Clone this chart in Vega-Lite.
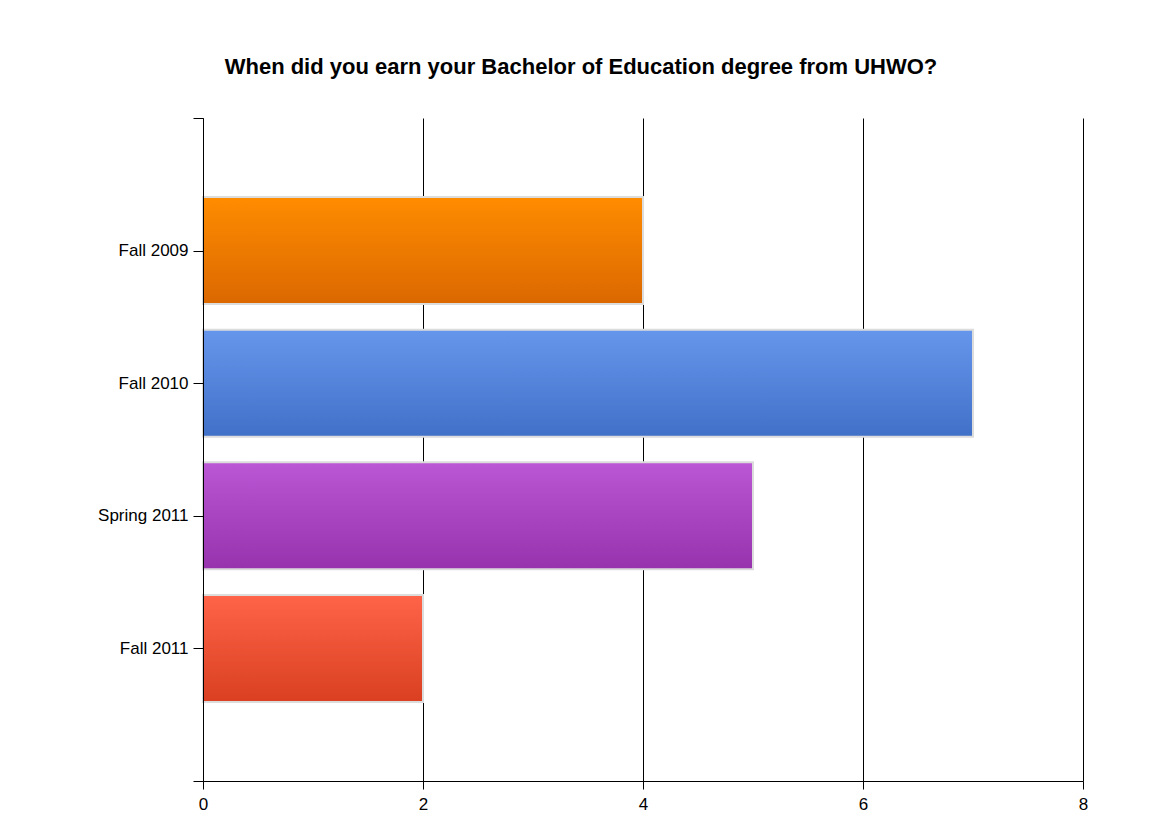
{
  "$schema": "https://vega.github.io/schema/vega-lite/v6.json",
  "width": 880,
  "height": 663,
  "autosize": {"type": "none"},
  "padding": {"left": 203, "top": 118, "right": 68, "bottom": 35},
  "background": "white",
  "config": {"view": {"stroke": null}, "font": "Liberation Sans"},
  "title": {
    "text": "When did you earn your Bachelor of Education degree from UHWO?",
    "fontSize": 22,
    "fontWeight": "bold",
    "color": "#000000",
    "anchor": "middle",
    "offset": 30,
    "dx": -62
  },
  "data": {
    "values": [
      {"term": "Fall 2009", "count": 4},
      {"term": "Fall 2010", "count": 7},
      {"term": "Spring 2011", "count": 5},
      {"term": "Fall 2011", "count": 2}
    ]
  },
  "encoding": {
    "y": {
      "field": "term",
      "type": "nominal",
      "title": null,
      "scale": {"type": "point", "padding": 0, "domain": ["", "Fall 2009", "Fall 2010", "Spring 2011", "Fall 2011", " "]},
      "axis": {
        "zindex": 1,
        "domainColor": "#000000",
        "domainWidth": 1,
        "tickColor": "#000000",
        "tickSize": 10,
        "labelFontSize": 17,
        "labelColor": "#000000",
        "labelPadding": 5,
        "grid": false
      }
    },
    "x": {
      "field": "count",
      "type": "quantitative",
      "title": null,
      "scale": {"domain": [0, 8], "nice": false},
      "axis": {
        "zindex": 0,
        "values": [0, 2, 4, 6, 8],
        "grid": true,
        "gridColor": "#000000",
        "gridOpacity": 1,
        "gridWidth": 1,
        "domainColor": "#000000",
        "tickColor": "#000000",
        "tickSize": 8,
        "labelFontSize": 17,
        "labelColor": "#000000",
        "labelPadding": 7,
        "labelFlush": false
      }
    }
  },
  "layer": [
    {
      "transform": [{"filter": "datum.term === 'Fall 2009'"}],
      "mark": {"type": "bar", "size": 107, "stroke": "#dcdcdc", "strokeWidth": 2,
        "fill": {"gradient": "linear", "x1": 0, "y1": 0, "x2": 0, "y2": 1,
          "stops": [{"offset": 0, "color": "#ff8c00"}, {"offset": 1, "color": "#db6800"}]}}
    },
    {
      "transform": [{"filter": "datum.term === 'Fall 2010'"}],
      "mark": {"type": "bar", "size": 107, "stroke": "#dcdcdc", "strokeWidth": 2,
        "fill": {"gradient": "linear", "x1": 0, "y1": 0, "x2": 0, "y2": 1,
          "stops": [{"offset": 0, "color": "#6696ec"}, {"offset": 1, "color": "#4170c8"}]}}
    },
    {
      "transform": [{"filter": "datum.term === 'Spring 2011'"}],
      "mark": {"type": "bar", "size": 107, "stroke": "#dcdcdc", "strokeWidth": 2,
        "fill": {"gradient": "linear", "x1": 0, "y1": 0, "x2": 0, "y2": 1,
          "stops": [{"offset": 0, "color": "#bb56d4"}, {"offset": 1, "color": "#9833ae"}]}}
    },
    {
      "transform": [{"filter": "datum.term === 'Fall 2011'"}],
      "mark": {"type": "bar", "size": 107, "stroke": "#dcdcdc", "strokeWidth": 2,
        "fill": {"gradient": "linear", "x1": 0, "y1": 0, "x2": 0, "y2": 1,
          "stops": [{"offset": 0, "color": "#ff6449"}, {"offset": 1, "color": "#d93f20"}]}}
    }
  ]
}
